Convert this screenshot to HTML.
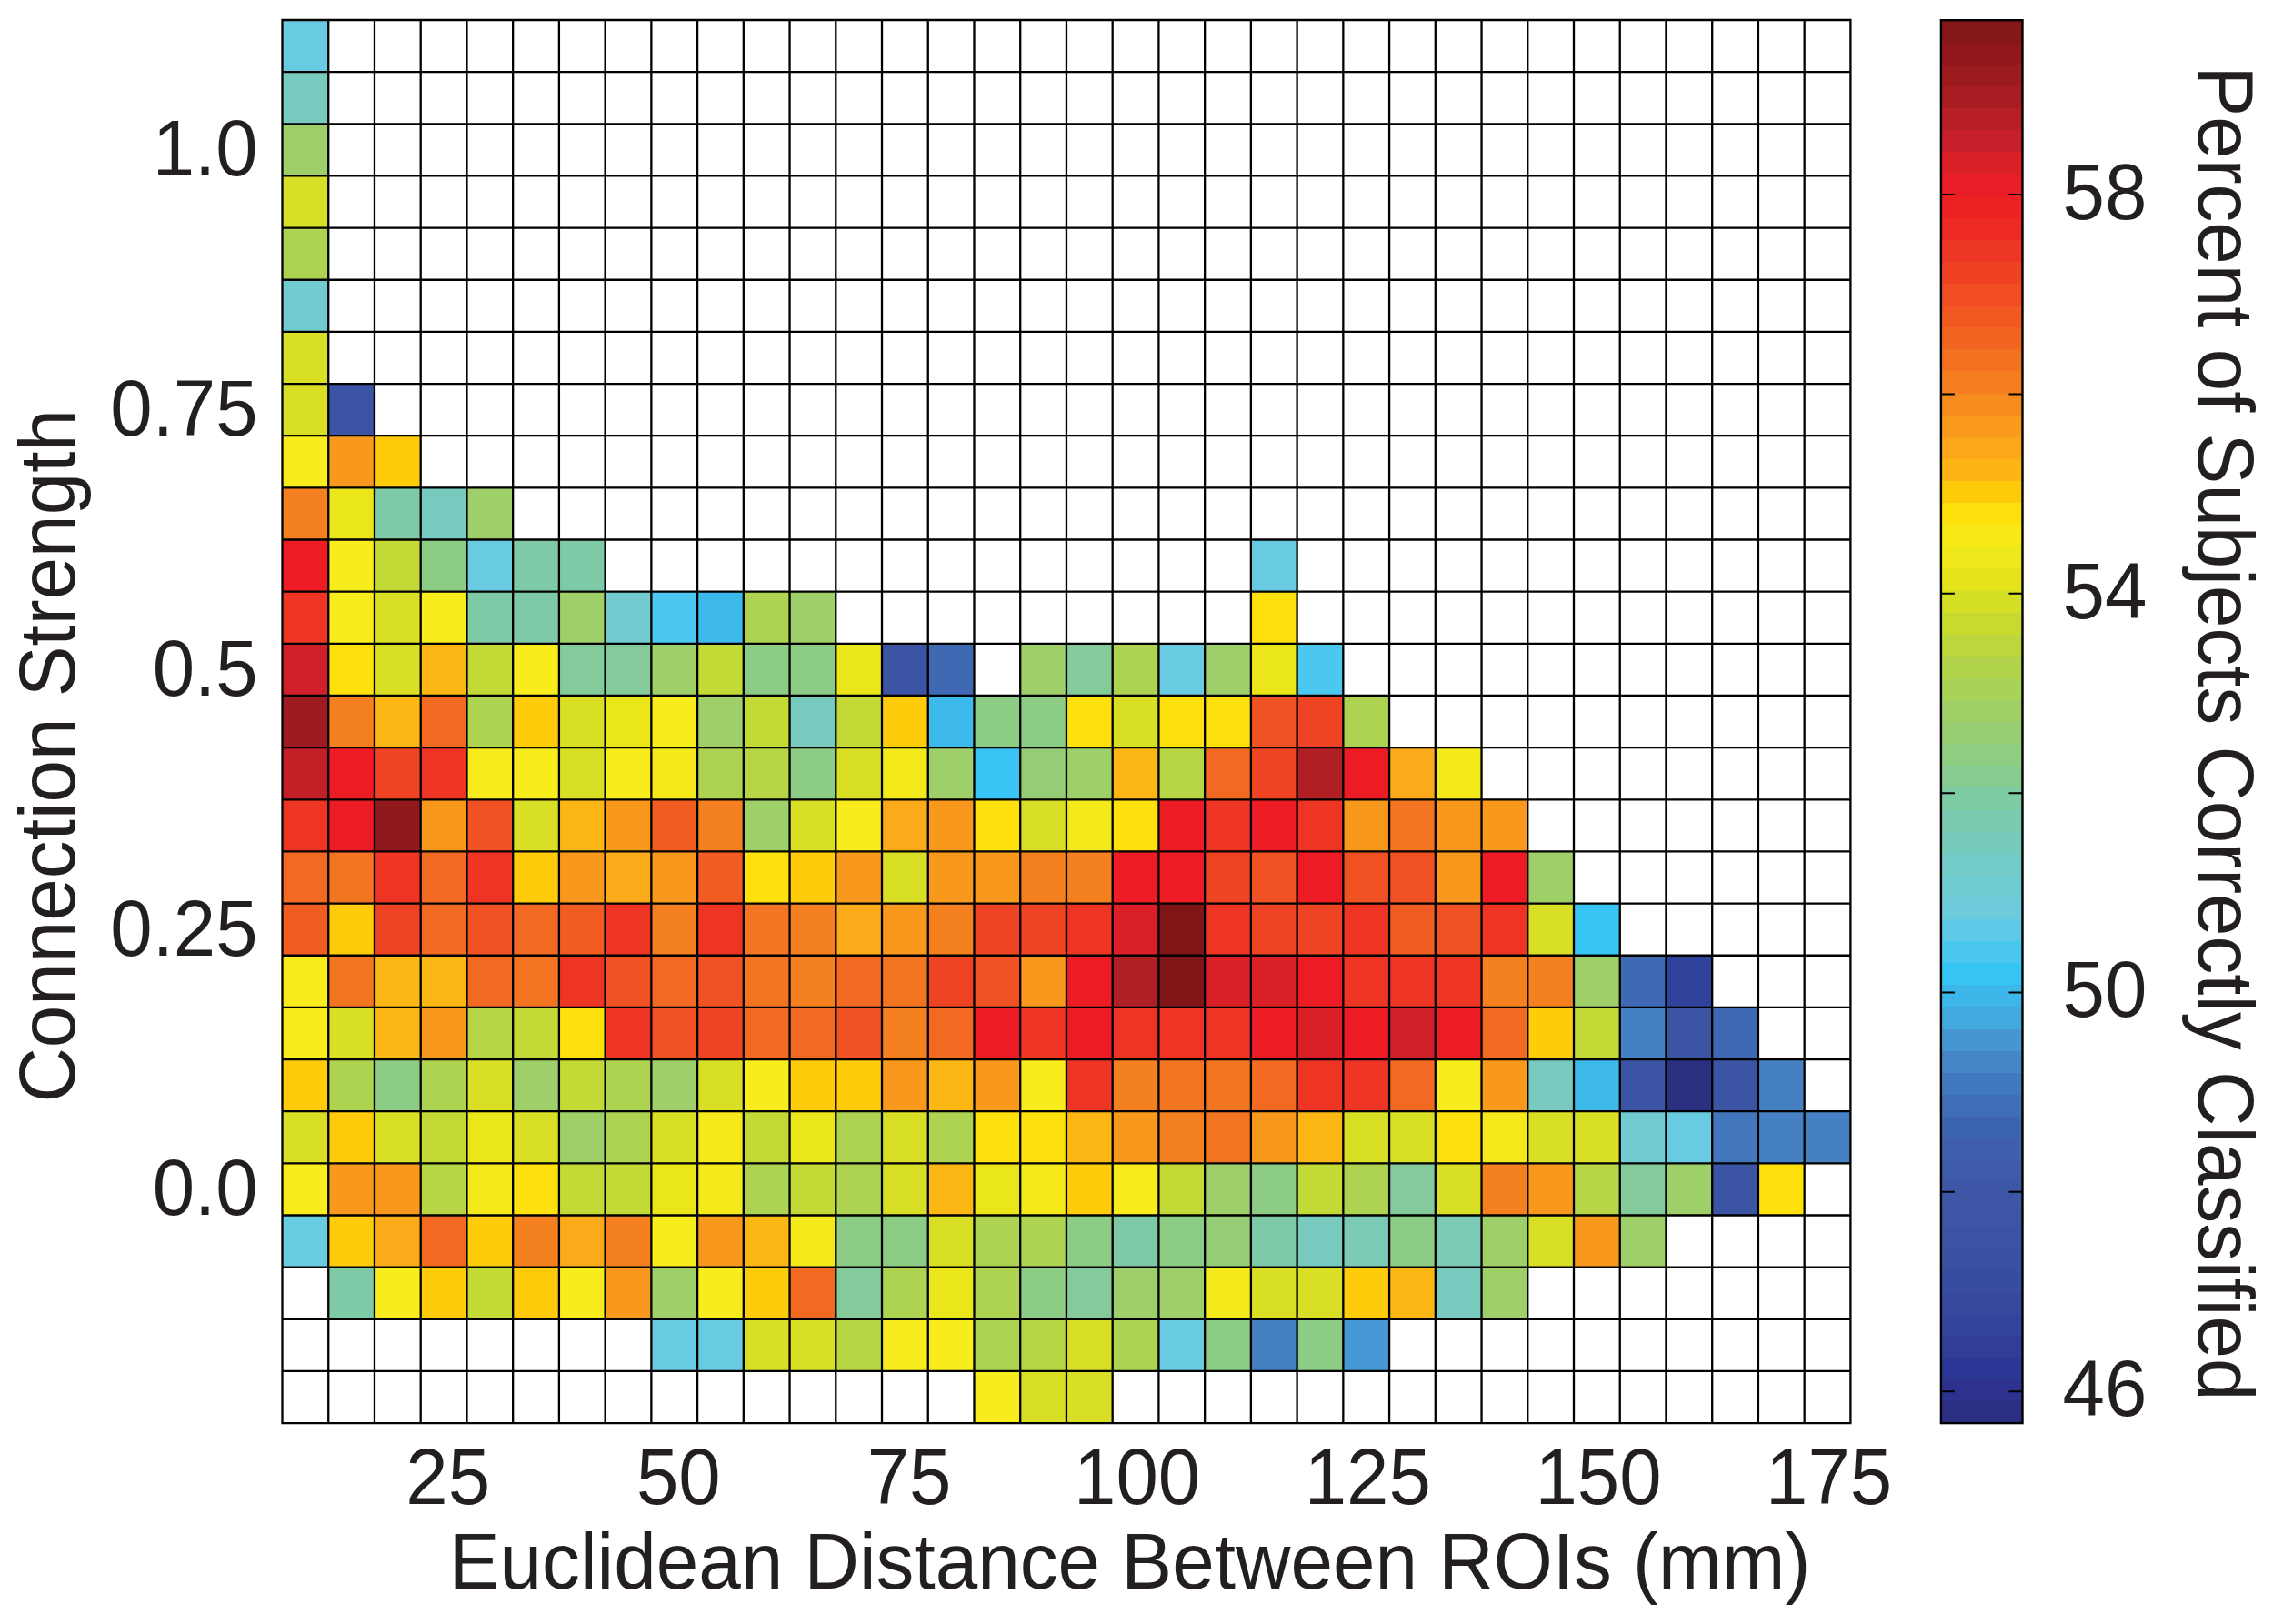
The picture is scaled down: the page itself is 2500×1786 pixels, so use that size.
<!DOCTYPE html>
<html lang="en"><head><meta charset="utf-8"><title>Classification accuracy by distance and connection strength</title>
<style>html,body{margin:0;padding:0;background:#fff}body{width:2500px;height:1786px;overflow:hidden}svg{display:block}text{font-family:"Liberation Sans",Arial,Helvetica,sans-serif;fill:#231f20}</style></head><body>
<svg width="2500" height="1786" viewBox="0 0 2500 1786">
<rect width="2500" height="1786" fill="#fff"/>
<g shape-rendering="crispEdges">
<rect x="310.50" y="22.00" width="50.73" height="57.15" fill="#69cbe1"/>
<rect x="310.50" y="79.15" width="50.73" height="57.15" fill="#77cabd"/>
<rect x="310.50" y="136.30" width="50.73" height="57.15" fill="#9ecf68"/>
<rect x="310.50" y="193.46" width="50.73" height="57.15" fill="#d8df24"/>
<rect x="310.50" y="250.61" width="50.73" height="57.15" fill="#aed351"/>
<rect x="310.50" y="307.76" width="50.73" height="57.15" fill="#71cbd0"/>
<rect x="310.50" y="364.91" width="50.73" height="57.15" fill="#d8df24"/>
<rect x="310.50" y="422.06" width="50.73" height="57.15" fill="#d8df24"/>
<rect x="361.23" y="422.06" width="50.73" height="57.15" fill="#3c54a4"/>
<rect x="310.50" y="479.21" width="50.73" height="57.15" fill="#f9ec1d"/>
<rect x="361.23" y="479.21" width="50.73" height="57.15" fill="#f8981d"/>
<rect x="411.96" y="479.21" width="50.73" height="57.15" fill="#ffcc0b"/>
<rect x="310.50" y="536.37" width="50.73" height="57.15" fill="#f58020"/>
<rect x="361.23" y="536.37" width="50.73" height="57.15" fill="#ebe619"/>
<rect x="411.96" y="536.37" width="50.73" height="57.15" fill="#7ecaa6"/>
<rect x="462.70" y="536.37" width="50.73" height="57.15" fill="#77cabd"/>
<rect x="513.43" y="536.37" width="50.73" height="57.15" fill="#9ecf68"/>
<rect x="310.50" y="593.52" width="50.73" height="57.15" fill="#ed1c24"/>
<rect x="361.23" y="593.52" width="50.73" height="57.15" fill="#f9ec1d"/>
<rect x="411.96" y="593.52" width="50.73" height="57.15" fill="#c2d936"/>
<rect x="462.70" y="593.52" width="50.73" height="57.15" fill="#8dcc84"/>
<rect x="513.43" y="593.52" width="50.73" height="57.15" fill="#69cbe1"/>
<rect x="564.16" y="593.52" width="50.73" height="57.15" fill="#7ecaa6"/>
<rect x="614.89" y="593.52" width="50.73" height="57.15" fill="#7ecaa6"/>
<rect x="1375.88" y="593.52" width="50.73" height="57.15" fill="#69cbe1"/>
<rect x="310.50" y="650.67" width="50.73" height="57.15" fill="#ee3524"/>
<rect x="361.23" y="650.67" width="50.73" height="57.15" fill="#f9ec1d"/>
<rect x="411.96" y="650.67" width="50.73" height="57.15" fill="#d8df24"/>
<rect x="462.70" y="650.67" width="50.73" height="57.15" fill="#f9ec1d"/>
<rect x="513.43" y="650.67" width="50.73" height="57.15" fill="#7ecaa6"/>
<rect x="564.16" y="650.67" width="50.73" height="57.15" fill="#7ecaa6"/>
<rect x="614.89" y="650.67" width="50.73" height="57.15" fill="#9ecf68"/>
<rect x="665.63" y="650.67" width="50.73" height="57.15" fill="#71cbd0"/>
<rect x="716.36" y="650.67" width="50.73" height="57.15" fill="#4cc7f0"/>
<rect x="767.09" y="650.67" width="50.73" height="57.15" fill="#3db9ec"/>
<rect x="817.82" y="650.67" width="50.73" height="57.15" fill="#aed351"/>
<rect x="868.56" y="650.67" width="50.73" height="57.15" fill="#9ecf68"/>
<rect x="1375.88" y="650.67" width="50.73" height="57.15" fill="#fee00c"/>
<rect x="310.50" y="707.82" width="50.73" height="57.15" fill="#cf2029"/>
<rect x="361.23" y="707.82" width="50.73" height="57.15" fill="#fee00c"/>
<rect x="411.96" y="707.82" width="50.73" height="57.15" fill="#d8df24"/>
<rect x="462.70" y="707.82" width="50.73" height="57.15" fill="#fdb714"/>
<rect x="513.43" y="707.82" width="50.73" height="57.15" fill="#c2d936"/>
<rect x="564.16" y="707.82" width="50.73" height="57.15" fill="#f9ec1d"/>
<rect x="614.89" y="707.82" width="50.73" height="57.15" fill="#85ca9a"/>
<rect x="665.63" y="707.82" width="50.73" height="57.15" fill="#85ca9a"/>
<rect x="716.36" y="707.82" width="50.73" height="57.15" fill="#9ecf68"/>
<rect x="767.09" y="707.82" width="50.73" height="57.15" fill="#c2d936"/>
<rect x="817.82" y="707.82" width="50.73" height="57.15" fill="#8dcc84"/>
<rect x="868.56" y="707.82" width="50.73" height="57.15" fill="#8dcc84"/>
<rect x="919.29" y="707.82" width="50.73" height="57.15" fill="#ebe619"/>
<rect x="970.02" y="707.82" width="50.73" height="57.15" fill="#3c54a4"/>
<rect x="1020.75" y="707.82" width="50.73" height="57.15" fill="#3f69b2"/>
<rect x="1122.22" y="707.82" width="50.73" height="57.15" fill="#9ecf68"/>
<rect x="1172.95" y="707.82" width="50.73" height="57.15" fill="#85ca9a"/>
<rect x="1223.68" y="707.82" width="50.73" height="57.15" fill="#aed351"/>
<rect x="1274.41" y="707.82" width="50.73" height="57.15" fill="#69cbe1"/>
<rect x="1325.15" y="707.82" width="50.73" height="57.15" fill="#9ecf68"/>
<rect x="1375.88" y="707.82" width="50.73" height="57.15" fill="#ebe619"/>
<rect x="1426.61" y="707.82" width="50.73" height="57.15" fill="#4cc7f0"/>
<rect x="310.50" y="764.97" width="50.73" height="57.15" fill="#9e1b20"/>
<rect x="361.23" y="764.97" width="50.73" height="57.15" fill="#f58020"/>
<rect x="411.96" y="764.97" width="50.73" height="57.15" fill="#fdb714"/>
<rect x="462.70" y="764.97" width="50.73" height="57.15" fill="#f26a21"/>
<rect x="513.43" y="764.97" width="50.73" height="57.15" fill="#aed351"/>
<rect x="564.16" y="764.97" width="50.73" height="57.15" fill="#ffcc0b"/>
<rect x="614.89" y="764.97" width="50.73" height="57.15" fill="#d8df24"/>
<rect x="665.63" y="764.97" width="50.73" height="57.15" fill="#ebe619"/>
<rect x="716.36" y="764.97" width="50.73" height="57.15" fill="#f9ec1d"/>
<rect x="767.09" y="764.97" width="50.73" height="57.15" fill="#9ecf68"/>
<rect x="817.82" y="764.97" width="50.73" height="57.15" fill="#c2d936"/>
<rect x="868.56" y="764.97" width="50.73" height="57.15" fill="#77cabd"/>
<rect x="919.29" y="764.97" width="50.73" height="57.15" fill="#c2d936"/>
<rect x="970.02" y="764.97" width="50.73" height="57.15" fill="#ffcc0b"/>
<rect x="1020.75" y="764.97" width="50.73" height="57.15" fill="#3db9ec"/>
<rect x="1071.49" y="764.97" width="50.73" height="57.15" fill="#8dcc84"/>
<rect x="1122.22" y="764.97" width="50.73" height="57.15" fill="#8dcc84"/>
<rect x="1172.95" y="764.97" width="50.73" height="57.15" fill="#fee00c"/>
<rect x="1223.68" y="764.97" width="50.73" height="57.15" fill="#d8df24"/>
<rect x="1274.41" y="764.97" width="50.73" height="57.15" fill="#fee00c"/>
<rect x="1325.15" y="764.97" width="50.73" height="57.15" fill="#fee00c"/>
<rect x="1375.88" y="764.97" width="50.73" height="57.15" fill="#f05223"/>
<rect x="1426.61" y="764.97" width="50.73" height="57.15" fill="#ef4423"/>
<rect x="1477.34" y="764.97" width="50.73" height="57.15" fill="#aed351"/>
<rect x="310.50" y="822.13" width="50.73" height="57.15" fill="#c22026"/>
<rect x="361.23" y="822.13" width="50.73" height="57.15" fill="#ed1c24"/>
<rect x="411.96" y="822.13" width="50.73" height="57.15" fill="#ef4423"/>
<rect x="462.70" y="822.13" width="50.73" height="57.15" fill="#ee3524"/>
<rect x="513.43" y="822.13" width="50.73" height="57.15" fill="#f9ec1d"/>
<rect x="564.16" y="822.13" width="50.73" height="57.15" fill="#f9ec1d"/>
<rect x="614.89" y="822.13" width="50.73" height="57.15" fill="#d8df24"/>
<rect x="665.63" y="822.13" width="50.73" height="57.15" fill="#f9ec1d"/>
<rect x="716.36" y="822.13" width="50.73" height="57.15" fill="#f3e91b"/>
<rect x="767.09" y="822.13" width="50.73" height="57.15" fill="#aed351"/>
<rect x="817.82" y="822.13" width="50.73" height="57.15" fill="#b6d645"/>
<rect x="868.56" y="822.13" width="50.73" height="57.15" fill="#8dcc84"/>
<rect x="919.29" y="822.13" width="50.73" height="57.15" fill="#d8df24"/>
<rect x="970.02" y="822.13" width="50.73" height="57.15" fill="#f3e91b"/>
<rect x="1020.75" y="822.13" width="50.73" height="57.15" fill="#9ecf68"/>
<rect x="1071.49" y="822.13" width="50.73" height="57.15" fill="#38c4f4"/>
<rect x="1122.22" y="822.13" width="50.73" height="57.15" fill="#95cd76"/>
<rect x="1172.95" y="822.13" width="50.73" height="57.15" fill="#9ecf68"/>
<rect x="1223.68" y="822.13" width="50.73" height="57.15" fill="#fdb714"/>
<rect x="1274.41" y="822.13" width="50.73" height="57.15" fill="#b6d645"/>
<rect x="1325.15" y="822.13" width="50.73" height="57.15" fill="#f26a21"/>
<rect x="1375.88" y="822.13" width="50.73" height="57.15" fill="#ef4423"/>
<rect x="1426.61" y="822.13" width="50.73" height="57.15" fill="#b01f24"/>
<rect x="1477.34" y="822.13" width="50.73" height="57.15" fill="#ed1c24"/>
<rect x="1528.08" y="822.13" width="50.73" height="57.15" fill="#fbaa19"/>
<rect x="1578.81" y="822.13" width="50.73" height="57.15" fill="#f3e91b"/>
<rect x="310.50" y="879.28" width="50.73" height="57.15" fill="#ee3524"/>
<rect x="361.23" y="879.28" width="50.73" height="57.15" fill="#ed1c24"/>
<rect x="411.96" y="879.28" width="50.73" height="57.15" fill="#8f191c"/>
<rect x="462.70" y="879.28" width="50.73" height="57.15" fill="#f8981d"/>
<rect x="513.43" y="879.28" width="50.73" height="57.15" fill="#f05223"/>
<rect x="564.16" y="879.28" width="50.73" height="57.15" fill="#d8df24"/>
<rect x="614.89" y="879.28" width="50.73" height="57.15" fill="#fdb714"/>
<rect x="665.63" y="879.28" width="50.73" height="57.15" fill="#f8981d"/>
<rect x="716.36" y="879.28" width="50.73" height="57.15" fill="#f15c22"/>
<rect x="767.09" y="879.28" width="50.73" height="57.15" fill="#f58020"/>
<rect x="817.82" y="879.28" width="50.73" height="57.15" fill="#9ecf68"/>
<rect x="868.56" y="879.28" width="50.73" height="57.15" fill="#d8df24"/>
<rect x="919.29" y="879.28" width="50.73" height="57.15" fill="#f9ec1d"/>
<rect x="970.02" y="879.28" width="50.73" height="57.15" fill="#fbaa19"/>
<rect x="1020.75" y="879.28" width="50.73" height="57.15" fill="#f8981d"/>
<rect x="1071.49" y="879.28" width="50.73" height="57.15" fill="#fee00c"/>
<rect x="1122.22" y="879.28" width="50.73" height="57.15" fill="#d8df24"/>
<rect x="1172.95" y="879.28" width="50.73" height="57.15" fill="#f3e91b"/>
<rect x="1223.68" y="879.28" width="50.73" height="57.15" fill="#fee00c"/>
<rect x="1274.41" y="879.28" width="50.73" height="57.15" fill="#ed1c24"/>
<rect x="1325.15" y="879.28" width="50.73" height="57.15" fill="#ee3524"/>
<rect x="1375.88" y="879.28" width="50.73" height="57.15" fill="#ed1c24"/>
<rect x="1426.61" y="879.28" width="50.73" height="57.15" fill="#ee3524"/>
<rect x="1477.34" y="879.28" width="50.73" height="57.15" fill="#f8981d"/>
<rect x="1528.08" y="879.28" width="50.73" height="57.15" fill="#f47521"/>
<rect x="1578.81" y="879.28" width="50.73" height="57.15" fill="#f8981d"/>
<rect x="1629.54" y="879.28" width="50.73" height="57.15" fill="#f8981d"/>
<rect x="310.50" y="936.43" width="50.73" height="57.15" fill="#f26a21"/>
<rect x="361.23" y="936.43" width="50.73" height="57.15" fill="#f47521"/>
<rect x="411.96" y="936.43" width="50.73" height="57.15" fill="#ee3524"/>
<rect x="462.70" y="936.43" width="50.73" height="57.15" fill="#f26a21"/>
<rect x="513.43" y="936.43" width="50.73" height="57.15" fill="#ee3524"/>
<rect x="564.16" y="936.43" width="50.73" height="57.15" fill="#ffcc0b"/>
<rect x="614.89" y="936.43" width="50.73" height="57.15" fill="#f8981d"/>
<rect x="665.63" y="936.43" width="50.73" height="57.15" fill="#fbaa19"/>
<rect x="716.36" y="936.43" width="50.73" height="57.15" fill="#f8981d"/>
<rect x="767.09" y="936.43" width="50.73" height="57.15" fill="#f15c22"/>
<rect x="817.82" y="936.43" width="50.73" height="57.15" fill="#fee00c"/>
<rect x="868.56" y="936.43" width="50.73" height="57.15" fill="#ffcc0b"/>
<rect x="919.29" y="936.43" width="50.73" height="57.15" fill="#f8981d"/>
<rect x="970.02" y="936.43" width="50.73" height="57.15" fill="#d8df24"/>
<rect x="1020.75" y="936.43" width="50.73" height="57.15" fill="#f8981d"/>
<rect x="1071.49" y="936.43" width="50.73" height="57.15" fill="#f8981d"/>
<rect x="1122.22" y="936.43" width="50.73" height="57.15" fill="#f58020"/>
<rect x="1172.95" y="936.43" width="50.73" height="57.15" fill="#f58020"/>
<rect x="1223.68" y="936.43" width="50.73" height="57.15" fill="#ed1c24"/>
<rect x="1274.41" y="936.43" width="50.73" height="57.15" fill="#ed1c24"/>
<rect x="1325.15" y="936.43" width="50.73" height="57.15" fill="#ef4423"/>
<rect x="1375.88" y="936.43" width="50.73" height="57.15" fill="#f05223"/>
<rect x="1426.61" y="936.43" width="50.73" height="57.15" fill="#ed1c24"/>
<rect x="1477.34" y="936.43" width="50.73" height="57.15" fill="#f05223"/>
<rect x="1528.08" y="936.43" width="50.73" height="57.15" fill="#f05223"/>
<rect x="1578.81" y="936.43" width="50.73" height="57.15" fill="#f8981d"/>
<rect x="1629.54" y="936.43" width="50.73" height="57.15" fill="#ed1c24"/>
<rect x="1680.27" y="936.43" width="50.73" height="57.15" fill="#9ecf68"/>
<rect x="310.50" y="993.58" width="50.73" height="57.15" fill="#f15c22"/>
<rect x="361.23" y="993.58" width="50.73" height="57.15" fill="#ffcc0b"/>
<rect x="411.96" y="993.58" width="50.73" height="57.15" fill="#ef4423"/>
<rect x="462.70" y="993.58" width="50.73" height="57.15" fill="#f26a21"/>
<rect x="513.43" y="993.58" width="50.73" height="57.15" fill="#f05223"/>
<rect x="564.16" y="993.58" width="50.73" height="57.15" fill="#f26a21"/>
<rect x="614.89" y="993.58" width="50.73" height="57.15" fill="#f15c22"/>
<rect x="665.63" y="993.58" width="50.73" height="57.15" fill="#ee3524"/>
<rect x="716.36" y="993.58" width="50.73" height="57.15" fill="#f58020"/>
<rect x="767.09" y="993.58" width="50.73" height="57.15" fill="#ee3524"/>
<rect x="817.82" y="993.58" width="50.73" height="57.15" fill="#f47521"/>
<rect x="868.56" y="993.58" width="50.73" height="57.15" fill="#f58020"/>
<rect x="919.29" y="993.58" width="50.73" height="57.15" fill="#fbaa19"/>
<rect x="970.02" y="993.58" width="50.73" height="57.15" fill="#f8981d"/>
<rect x="1020.75" y="993.58" width="50.73" height="57.15" fill="#f58020"/>
<rect x="1071.49" y="993.58" width="50.73" height="57.15" fill="#ef4423"/>
<rect x="1122.22" y="993.58" width="50.73" height="57.15" fill="#ef4423"/>
<rect x="1172.95" y="993.58" width="50.73" height="57.15" fill="#ee3524"/>
<rect x="1223.68" y="993.58" width="50.73" height="57.15" fill="#da1f27"/>
<rect x="1274.41" y="993.58" width="50.73" height="57.15" fill="#7f1517"/>
<rect x="1325.15" y="993.58" width="50.73" height="57.15" fill="#ee3524"/>
<rect x="1375.88" y="993.58" width="50.73" height="57.15" fill="#ef4423"/>
<rect x="1426.61" y="993.58" width="50.73" height="57.15" fill="#ef4423"/>
<rect x="1477.34" y="993.58" width="50.73" height="57.15" fill="#ee3524"/>
<rect x="1528.08" y="993.58" width="50.73" height="57.15" fill="#f15c22"/>
<rect x="1578.81" y="993.58" width="50.73" height="57.15" fill="#f05223"/>
<rect x="1629.54" y="993.58" width="50.73" height="57.15" fill="#ee3524"/>
<rect x="1680.27" y="993.58" width="50.73" height="57.15" fill="#d8df24"/>
<rect x="1731.01" y="993.58" width="50.73" height="57.15" fill="#38c4f4"/>
<rect x="310.50" y="1050.73" width="50.73" height="57.15" fill="#f9ec1d"/>
<rect x="361.23" y="1050.73" width="50.73" height="57.15" fill="#f47521"/>
<rect x="411.96" y="1050.73" width="50.73" height="57.15" fill="#fdb714"/>
<rect x="462.70" y="1050.73" width="50.73" height="57.15" fill="#fdb714"/>
<rect x="513.43" y="1050.73" width="50.73" height="57.15" fill="#f26a21"/>
<rect x="564.16" y="1050.73" width="50.73" height="57.15" fill="#f47521"/>
<rect x="614.89" y="1050.73" width="50.73" height="57.15" fill="#ee3524"/>
<rect x="665.63" y="1050.73" width="50.73" height="57.15" fill="#f05223"/>
<rect x="716.36" y="1050.73" width="50.73" height="57.15" fill="#f26a21"/>
<rect x="767.09" y="1050.73" width="50.73" height="57.15" fill="#f05223"/>
<rect x="817.82" y="1050.73" width="50.73" height="57.15" fill="#f47521"/>
<rect x="868.56" y="1050.73" width="50.73" height="57.15" fill="#f58020"/>
<rect x="919.29" y="1050.73" width="50.73" height="57.15" fill="#f26a21"/>
<rect x="970.02" y="1050.73" width="50.73" height="57.15" fill="#f47521"/>
<rect x="1020.75" y="1050.73" width="50.73" height="57.15" fill="#ef4423"/>
<rect x="1071.49" y="1050.73" width="50.73" height="57.15" fill="#f05223"/>
<rect x="1122.22" y="1050.73" width="50.73" height="57.15" fill="#f8981d"/>
<rect x="1172.95" y="1050.73" width="50.73" height="57.15" fill="#ed1c24"/>
<rect x="1223.68" y="1050.73" width="50.73" height="57.15" fill="#b01f24"/>
<rect x="1274.41" y="1050.73" width="50.73" height="57.15" fill="#7f1517"/>
<rect x="1325.15" y="1050.73" width="50.73" height="57.15" fill="#da1f27"/>
<rect x="1375.88" y="1050.73" width="50.73" height="57.15" fill="#da1f27"/>
<rect x="1426.61" y="1050.73" width="50.73" height="57.15" fill="#ed1c24"/>
<rect x="1477.34" y="1050.73" width="50.73" height="57.15" fill="#ee3524"/>
<rect x="1528.08" y="1050.73" width="50.73" height="57.15" fill="#ee3524"/>
<rect x="1578.81" y="1050.73" width="50.73" height="57.15" fill="#ee3524"/>
<rect x="1629.54" y="1050.73" width="50.73" height="57.15" fill="#f58020"/>
<rect x="1680.27" y="1050.73" width="50.73" height="57.15" fill="#f58020"/>
<rect x="1731.01" y="1050.73" width="50.73" height="57.15" fill="#9ecf68"/>
<rect x="1781.74" y="1050.73" width="50.73" height="57.15" fill="#3f69b2"/>
<rect x="1832.47" y="1050.73" width="50.73" height="57.15" fill="#30419b"/>
<rect x="310.50" y="1107.89" width="50.73" height="57.15" fill="#f9ec1d"/>
<rect x="361.23" y="1107.89" width="50.73" height="57.15" fill="#d8df24"/>
<rect x="411.96" y="1107.89" width="50.73" height="57.15" fill="#fdb714"/>
<rect x="462.70" y="1107.89" width="50.73" height="57.15" fill="#f8981d"/>
<rect x="513.43" y="1107.89" width="50.73" height="57.15" fill="#b6d645"/>
<rect x="564.16" y="1107.89" width="50.73" height="57.15" fill="#c2d936"/>
<rect x="614.89" y="1107.89" width="50.73" height="57.15" fill="#fee00c"/>
<rect x="665.63" y="1107.89" width="50.73" height="57.15" fill="#ee3524"/>
<rect x="716.36" y="1107.89" width="50.73" height="57.15" fill="#f05223"/>
<rect x="767.09" y="1107.89" width="50.73" height="57.15" fill="#ef4423"/>
<rect x="817.82" y="1107.89" width="50.73" height="57.15" fill="#f26a21"/>
<rect x="868.56" y="1107.89" width="50.73" height="57.15" fill="#f26a21"/>
<rect x="919.29" y="1107.89" width="50.73" height="57.15" fill="#f05223"/>
<rect x="970.02" y="1107.89" width="50.73" height="57.15" fill="#f58020"/>
<rect x="1020.75" y="1107.89" width="50.73" height="57.15" fill="#f26a21"/>
<rect x="1071.49" y="1107.89" width="50.73" height="57.15" fill="#ed1c24"/>
<rect x="1122.22" y="1107.89" width="50.73" height="57.15" fill="#ee3524"/>
<rect x="1172.95" y="1107.89" width="50.73" height="57.15" fill="#ed1c24"/>
<rect x="1223.68" y="1107.89" width="50.73" height="57.15" fill="#ee3524"/>
<rect x="1274.41" y="1107.89" width="50.73" height="57.15" fill="#ee3524"/>
<rect x="1325.15" y="1107.89" width="50.73" height="57.15" fill="#ee3524"/>
<rect x="1375.88" y="1107.89" width="50.73" height="57.15" fill="#ed1c24"/>
<rect x="1426.61" y="1107.89" width="50.73" height="57.15" fill="#da1f27"/>
<rect x="1477.34" y="1107.89" width="50.73" height="57.15" fill="#ed1c24"/>
<rect x="1528.08" y="1107.89" width="50.73" height="57.15" fill="#cf2029"/>
<rect x="1578.81" y="1107.89" width="50.73" height="57.15" fill="#ed1c24"/>
<rect x="1629.54" y="1107.89" width="50.73" height="57.15" fill="#f26a21"/>
<rect x="1680.27" y="1107.89" width="50.73" height="57.15" fill="#ffcc0b"/>
<rect x="1731.01" y="1107.89" width="50.73" height="57.15" fill="#c2d936"/>
<rect x="1781.74" y="1107.89" width="50.73" height="57.15" fill="#4580c3"/>
<rect x="1832.47" y="1107.89" width="50.73" height="57.15" fill="#3c54a4"/>
<rect x="1883.20" y="1107.89" width="50.73" height="57.15" fill="#3f69b2"/>
<rect x="310.50" y="1165.04" width="50.73" height="57.15" fill="#ffcc0b"/>
<rect x="361.23" y="1165.04" width="50.73" height="57.15" fill="#aed351"/>
<rect x="411.96" y="1165.04" width="50.73" height="57.15" fill="#8dcc84"/>
<rect x="462.70" y="1165.04" width="50.73" height="57.15" fill="#aed351"/>
<rect x="513.43" y="1165.04" width="50.73" height="57.15" fill="#d8df24"/>
<rect x="564.16" y="1165.04" width="50.73" height="57.15" fill="#9ecf68"/>
<rect x="614.89" y="1165.04" width="50.73" height="57.15" fill="#c2d936"/>
<rect x="665.63" y="1165.04" width="50.73" height="57.15" fill="#aed351"/>
<rect x="716.36" y="1165.04" width="50.73" height="57.15" fill="#9ecf68"/>
<rect x="767.09" y="1165.04" width="50.73" height="57.15" fill="#d8df24"/>
<rect x="817.82" y="1165.04" width="50.73" height="57.15" fill="#f9ec1d"/>
<rect x="868.56" y="1165.04" width="50.73" height="57.15" fill="#ffcc0b"/>
<rect x="919.29" y="1165.04" width="50.73" height="57.15" fill="#ffcc0b"/>
<rect x="970.02" y="1165.04" width="50.73" height="57.15" fill="#f8981d"/>
<rect x="1020.75" y="1165.04" width="50.73" height="57.15" fill="#fdb714"/>
<rect x="1071.49" y="1165.04" width="50.73" height="57.15" fill="#f8981d"/>
<rect x="1122.22" y="1165.04" width="50.73" height="57.15" fill="#f9ec1d"/>
<rect x="1172.95" y="1165.04" width="50.73" height="57.15" fill="#ee3524"/>
<rect x="1223.68" y="1165.04" width="50.73" height="57.15" fill="#f58020"/>
<rect x="1274.41" y="1165.04" width="50.73" height="57.15" fill="#f47521"/>
<rect x="1325.15" y="1165.04" width="50.73" height="57.15" fill="#f47521"/>
<rect x="1375.88" y="1165.04" width="50.73" height="57.15" fill="#f26a21"/>
<rect x="1426.61" y="1165.04" width="50.73" height="57.15" fill="#ee3524"/>
<rect x="1477.34" y="1165.04" width="50.73" height="57.15" fill="#ee3524"/>
<rect x="1528.08" y="1165.04" width="50.73" height="57.15" fill="#f26a21"/>
<rect x="1578.81" y="1165.04" width="50.73" height="57.15" fill="#f9ec1d"/>
<rect x="1629.54" y="1165.04" width="50.73" height="57.15" fill="#f8981d"/>
<rect x="1680.27" y="1165.04" width="50.73" height="57.15" fill="#77cabd"/>
<rect x="1731.01" y="1165.04" width="50.73" height="57.15" fill="#3db9ec"/>
<rect x="1781.74" y="1165.04" width="50.73" height="57.15" fill="#3c54a4"/>
<rect x="1832.47" y="1165.04" width="50.73" height="57.15" fill="#2b2f80"/>
<rect x="1883.20" y="1165.04" width="50.73" height="57.15" fill="#3c54a4"/>
<rect x="1933.94" y="1165.04" width="50.73" height="57.15" fill="#4580c3"/>
<rect x="310.50" y="1222.19" width="50.73" height="57.15" fill="#d8df24"/>
<rect x="361.23" y="1222.19" width="50.73" height="57.15" fill="#ffcc0b"/>
<rect x="411.96" y="1222.19" width="50.73" height="57.15" fill="#d8df24"/>
<rect x="462.70" y="1222.19" width="50.73" height="57.15" fill="#c2d936"/>
<rect x="513.43" y="1222.19" width="50.73" height="57.15" fill="#ebe619"/>
<rect x="564.16" y="1222.19" width="50.73" height="57.15" fill="#d8df24"/>
<rect x="614.89" y="1222.19" width="50.73" height="57.15" fill="#9ecf68"/>
<rect x="665.63" y="1222.19" width="50.73" height="57.15" fill="#aed351"/>
<rect x="716.36" y="1222.19" width="50.73" height="57.15" fill="#d8df24"/>
<rect x="767.09" y="1222.19" width="50.73" height="57.15" fill="#f3e91b"/>
<rect x="817.82" y="1222.19" width="50.73" height="57.15" fill="#c2d936"/>
<rect x="868.56" y="1222.19" width="50.73" height="57.15" fill="#ebe619"/>
<rect x="919.29" y="1222.19" width="50.73" height="57.15" fill="#aed351"/>
<rect x="970.02" y="1222.19" width="50.73" height="57.15" fill="#d8df24"/>
<rect x="1020.75" y="1222.19" width="50.73" height="57.15" fill="#aed351"/>
<rect x="1071.49" y="1222.19" width="50.73" height="57.15" fill="#fee00c"/>
<rect x="1122.22" y="1222.19" width="50.73" height="57.15" fill="#fee00c"/>
<rect x="1172.95" y="1222.19" width="50.73" height="57.15" fill="#fdb714"/>
<rect x="1223.68" y="1222.19" width="50.73" height="57.15" fill="#f8981d"/>
<rect x="1274.41" y="1222.19" width="50.73" height="57.15" fill="#f58020"/>
<rect x="1325.15" y="1222.19" width="50.73" height="57.15" fill="#f47521"/>
<rect x="1375.88" y="1222.19" width="50.73" height="57.15" fill="#f8981d"/>
<rect x="1426.61" y="1222.19" width="50.73" height="57.15" fill="#fdb714"/>
<rect x="1477.34" y="1222.19" width="50.73" height="57.15" fill="#d8df24"/>
<rect x="1528.08" y="1222.19" width="50.73" height="57.15" fill="#d8df24"/>
<rect x="1578.81" y="1222.19" width="50.73" height="57.15" fill="#fee00c"/>
<rect x="1629.54" y="1222.19" width="50.73" height="57.15" fill="#f3e91b"/>
<rect x="1680.27" y="1222.19" width="50.73" height="57.15" fill="#d8df24"/>
<rect x="1731.01" y="1222.19" width="50.73" height="57.15" fill="#d8df24"/>
<rect x="1781.74" y="1222.19" width="50.73" height="57.15" fill="#71cbd0"/>
<rect x="1832.47" y="1222.19" width="50.73" height="57.15" fill="#69cbe1"/>
<rect x="1883.20" y="1222.19" width="50.73" height="57.15" fill="#4277bc"/>
<rect x="1933.94" y="1222.19" width="50.73" height="57.15" fill="#4580c3"/>
<rect x="1984.67" y="1222.19" width="50.73" height="57.15" fill="#4580c3"/>
<rect x="310.50" y="1279.34" width="50.73" height="57.15" fill="#f9ec1d"/>
<rect x="361.23" y="1279.34" width="50.73" height="57.15" fill="#f8981d"/>
<rect x="411.96" y="1279.34" width="50.73" height="57.15" fill="#f8981d"/>
<rect x="462.70" y="1279.34" width="50.73" height="57.15" fill="#b6d645"/>
<rect x="513.43" y="1279.34" width="50.73" height="57.15" fill="#f3e91b"/>
<rect x="564.16" y="1279.34" width="50.73" height="57.15" fill="#fee00c"/>
<rect x="614.89" y="1279.34" width="50.73" height="57.15" fill="#c2d936"/>
<rect x="665.63" y="1279.34" width="50.73" height="57.15" fill="#c2d936"/>
<rect x="716.36" y="1279.34" width="50.73" height="57.15" fill="#ebe619"/>
<rect x="767.09" y="1279.34" width="50.73" height="57.15" fill="#f3e91b"/>
<rect x="817.82" y="1279.34" width="50.73" height="57.15" fill="#aed351"/>
<rect x="868.56" y="1279.34" width="50.73" height="57.15" fill="#c2d936"/>
<rect x="919.29" y="1279.34" width="50.73" height="57.15" fill="#aed351"/>
<rect x="970.02" y="1279.34" width="50.73" height="57.15" fill="#d8df24"/>
<rect x="1020.75" y="1279.34" width="50.73" height="57.15" fill="#fdb714"/>
<rect x="1071.49" y="1279.34" width="50.73" height="57.15" fill="#ebe619"/>
<rect x="1122.22" y="1279.34" width="50.73" height="57.15" fill="#f3e91b"/>
<rect x="1172.95" y="1279.34" width="50.73" height="57.15" fill="#ffcc0b"/>
<rect x="1223.68" y="1279.34" width="50.73" height="57.15" fill="#f9ec1d"/>
<rect x="1274.41" y="1279.34" width="50.73" height="57.15" fill="#c2d936"/>
<rect x="1325.15" y="1279.34" width="50.73" height="57.15" fill="#9ecf68"/>
<rect x="1375.88" y="1279.34" width="50.73" height="57.15" fill="#8dcc84"/>
<rect x="1426.61" y="1279.34" width="50.73" height="57.15" fill="#c2d936"/>
<rect x="1477.34" y="1279.34" width="50.73" height="57.15" fill="#aed351"/>
<rect x="1528.08" y="1279.34" width="50.73" height="57.15" fill="#85ca9a"/>
<rect x="1578.81" y="1279.34" width="50.73" height="57.15" fill="#d8df24"/>
<rect x="1629.54" y="1279.34" width="50.73" height="57.15" fill="#f58020"/>
<rect x="1680.27" y="1279.34" width="50.73" height="57.15" fill="#f8981d"/>
<rect x="1731.01" y="1279.34" width="50.73" height="57.15" fill="#b6d645"/>
<rect x="1781.74" y="1279.34" width="50.73" height="57.15" fill="#85ca9a"/>
<rect x="1832.47" y="1279.34" width="50.73" height="57.15" fill="#9ecf68"/>
<rect x="1883.20" y="1279.34" width="50.73" height="57.15" fill="#3c54a4"/>
<rect x="1933.94" y="1279.34" width="50.73" height="57.15" fill="#fee00c"/>
<rect x="310.50" y="1336.49" width="50.73" height="57.15" fill="#69cbe1"/>
<rect x="361.23" y="1336.49" width="50.73" height="57.15" fill="#ffcc0b"/>
<rect x="411.96" y="1336.49" width="50.73" height="57.15" fill="#fbaa19"/>
<rect x="462.70" y="1336.49" width="50.73" height="57.15" fill="#f26a21"/>
<rect x="513.43" y="1336.49" width="50.73" height="57.15" fill="#ffcc0b"/>
<rect x="564.16" y="1336.49" width="50.73" height="57.15" fill="#f58020"/>
<rect x="614.89" y="1336.49" width="50.73" height="57.15" fill="#fbaa19"/>
<rect x="665.63" y="1336.49" width="50.73" height="57.15" fill="#f58020"/>
<rect x="716.36" y="1336.49" width="50.73" height="57.15" fill="#f9ec1d"/>
<rect x="767.09" y="1336.49" width="50.73" height="57.15" fill="#f8981d"/>
<rect x="817.82" y="1336.49" width="50.73" height="57.15" fill="#fdb714"/>
<rect x="868.56" y="1336.49" width="50.73" height="57.15" fill="#f3e91b"/>
<rect x="919.29" y="1336.49" width="50.73" height="57.15" fill="#8dcc84"/>
<rect x="970.02" y="1336.49" width="50.73" height="57.15" fill="#8dcc84"/>
<rect x="1020.75" y="1336.49" width="50.73" height="57.15" fill="#d8df24"/>
<rect x="1071.49" y="1336.49" width="50.73" height="57.15" fill="#aed351"/>
<rect x="1122.22" y="1336.49" width="50.73" height="57.15" fill="#aed351"/>
<rect x="1172.95" y="1336.49" width="50.73" height="57.15" fill="#8dcc84"/>
<rect x="1223.68" y="1336.49" width="50.73" height="57.15" fill="#7ecaa6"/>
<rect x="1274.41" y="1336.49" width="50.73" height="57.15" fill="#8dcc84"/>
<rect x="1325.15" y="1336.49" width="50.73" height="57.15" fill="#95cd76"/>
<rect x="1375.88" y="1336.49" width="50.73" height="57.15" fill="#7ecaa6"/>
<rect x="1426.61" y="1336.49" width="50.73" height="57.15" fill="#77cabd"/>
<rect x="1477.34" y="1336.49" width="50.73" height="57.15" fill="#7bcab6"/>
<rect x="1528.08" y="1336.49" width="50.73" height="57.15" fill="#8dcc84"/>
<rect x="1578.81" y="1336.49" width="50.73" height="57.15" fill="#7bcab6"/>
<rect x="1629.54" y="1336.49" width="50.73" height="57.15" fill="#9ecf68"/>
<rect x="1680.27" y="1336.49" width="50.73" height="57.15" fill="#d8df24"/>
<rect x="1731.01" y="1336.49" width="50.73" height="57.15" fill="#f8981d"/>
<rect x="1781.74" y="1336.49" width="50.73" height="57.15" fill="#9ecf68"/>
<rect x="361.23" y="1393.64" width="50.73" height="57.15" fill="#7ecaa6"/>
<rect x="411.96" y="1393.64" width="50.73" height="57.15" fill="#f9ec1d"/>
<rect x="462.70" y="1393.64" width="50.73" height="57.15" fill="#ffcc0b"/>
<rect x="513.43" y="1393.64" width="50.73" height="57.15" fill="#c2d936"/>
<rect x="564.16" y="1393.64" width="50.73" height="57.15" fill="#ffcc0b"/>
<rect x="614.89" y="1393.64" width="50.73" height="57.15" fill="#f9ec1d"/>
<rect x="665.63" y="1393.64" width="50.73" height="57.15" fill="#f8981d"/>
<rect x="716.36" y="1393.64" width="50.73" height="57.15" fill="#9ecf68"/>
<rect x="767.09" y="1393.64" width="50.73" height="57.15" fill="#f9ec1d"/>
<rect x="817.82" y="1393.64" width="50.73" height="57.15" fill="#ffcc0b"/>
<rect x="868.56" y="1393.64" width="50.73" height="57.15" fill="#f26a21"/>
<rect x="919.29" y="1393.64" width="50.73" height="57.15" fill="#85ca9a"/>
<rect x="970.02" y="1393.64" width="50.73" height="57.15" fill="#aed351"/>
<rect x="1020.75" y="1393.64" width="50.73" height="57.15" fill="#ebe619"/>
<rect x="1071.49" y="1393.64" width="50.73" height="57.15" fill="#aed351"/>
<rect x="1122.22" y="1393.64" width="50.73" height="57.15" fill="#8dcc84"/>
<rect x="1172.95" y="1393.64" width="50.73" height="57.15" fill="#85ca9a"/>
<rect x="1223.68" y="1393.64" width="50.73" height="57.15" fill="#9ecf68"/>
<rect x="1274.41" y="1393.64" width="50.73" height="57.15" fill="#9ecf68"/>
<rect x="1325.15" y="1393.64" width="50.73" height="57.15" fill="#f3e91b"/>
<rect x="1375.88" y="1393.64" width="50.73" height="57.15" fill="#d8df24"/>
<rect x="1426.61" y="1393.64" width="50.73" height="57.15" fill="#d8df24"/>
<rect x="1477.34" y="1393.64" width="50.73" height="57.15" fill="#ffcc0b"/>
<rect x="1528.08" y="1393.64" width="50.73" height="57.15" fill="#fdb714"/>
<rect x="1578.81" y="1393.64" width="50.73" height="57.15" fill="#77cabd"/>
<rect x="1629.54" y="1393.64" width="50.73" height="57.15" fill="#9ecf68"/>
<rect x="716.36" y="1450.80" width="50.73" height="57.15" fill="#69cbe1"/>
<rect x="767.09" y="1450.80" width="50.73" height="57.15" fill="#69cbe1"/>
<rect x="817.82" y="1450.80" width="50.73" height="57.15" fill="#d8df24"/>
<rect x="868.56" y="1450.80" width="50.73" height="57.15" fill="#d8df24"/>
<rect x="919.29" y="1450.80" width="50.73" height="57.15" fill="#b6d645"/>
<rect x="970.02" y="1450.80" width="50.73" height="57.15" fill="#f9ec1d"/>
<rect x="1020.75" y="1450.80" width="50.73" height="57.15" fill="#f9ec1d"/>
<rect x="1071.49" y="1450.80" width="50.73" height="57.15" fill="#aed351"/>
<rect x="1122.22" y="1450.80" width="50.73" height="57.15" fill="#b6d645"/>
<rect x="1172.95" y="1450.80" width="50.73" height="57.15" fill="#d8df24"/>
<rect x="1223.68" y="1450.80" width="50.73" height="57.15" fill="#aed351"/>
<rect x="1274.41" y="1450.80" width="50.73" height="57.15" fill="#69cbe1"/>
<rect x="1325.15" y="1450.80" width="50.73" height="57.15" fill="#8dcc84"/>
<rect x="1375.88" y="1450.80" width="50.73" height="57.15" fill="#4580c3"/>
<rect x="1426.61" y="1450.80" width="50.73" height="57.15" fill="#8dcc84"/>
<rect x="1477.34" y="1450.80" width="50.73" height="57.15" fill="#4699d4"/>
<rect x="1071.49" y="1507.95" width="50.73" height="57.15" fill="#f9ec1d"/>
<rect x="1122.22" y="1507.95" width="50.73" height="57.15" fill="#d8df24"/>
<rect x="1172.95" y="1507.95" width="50.73" height="57.15" fill="#d8df24"/>
</g>
<path d="M310.50 22.00V1565.10M361.23 22.00V1565.10M411.96 22.00V1565.10M462.70 22.00V1565.10M513.43 22.00V1565.10M564.16 22.00V1565.10M614.89 22.00V1565.10M665.63 22.00V1565.10M716.36 22.00V1565.10M767.09 22.00V1565.10M817.82 22.00V1565.10M868.56 22.00V1565.10M919.29 22.00V1565.10M970.02 22.00V1565.10M1020.75 22.00V1565.10M1071.49 22.00V1565.10M1122.22 22.00V1565.10M1172.95 22.00V1565.10M1223.68 22.00V1565.10M1274.41 22.00V1565.10M1325.15 22.00V1565.10M1375.88 22.00V1565.10M1426.61 22.00V1565.10M1477.34 22.00V1565.10M1528.08 22.00V1565.10M1578.81 22.00V1565.10M1629.54 22.00V1565.10M1680.27 22.00V1565.10M1731.01 22.00V1565.10M1781.74 22.00V1565.10M1832.47 22.00V1565.10M1883.20 22.00V1565.10M1933.94 22.00V1565.10M1984.67 22.00V1565.10M2035.40 22.00V1565.10M310.50 22.00H2035.40M310.50 79.15H2035.40M310.50 136.30H2035.40M310.50 193.46H2035.40M310.50 250.61H2035.40M310.50 307.76H2035.40M310.50 364.91H2035.40M310.50 422.06H2035.40M310.50 479.21H2035.40M310.50 536.37H2035.40M310.50 593.52H2035.40M310.50 650.67H2035.40M310.50 707.82H2035.40M310.50 764.97H2035.40M310.50 822.13H2035.40M310.50 879.28H2035.40M310.50 936.43H2035.40M310.50 993.58H2035.40M310.50 1050.73H2035.40M310.50 1107.89H2035.40M310.50 1165.04H2035.40M310.50 1222.19H2035.40M310.50 1279.34H2035.40M310.50 1336.49H2035.40M310.50 1393.64H2035.40M310.50 1450.80H2035.40M310.50 1507.95H2035.40M310.50 1565.10H2035.40" stroke="#000" stroke-width="2.30" fill="none" stroke-linecap="square"/>
<g shape-rendering="crispEdges">
<rect x="2134.90" y="1540.99" width="89.60" height="24.61" fill="#2b2f82"/>
<rect x="2134.90" y="1516.88" width="89.60" height="24.61" fill="#2c328e"/>
<rect x="2134.90" y="1492.78" width="89.60" height="24.61" fill="#2c3694"/>
<rect x="2134.90" y="1468.67" width="89.60" height="24.61" fill="#303e98"/>
<rect x="2134.90" y="1444.56" width="89.60" height="24.61" fill="#33449c"/>
<rect x="2134.90" y="1420.45" width="89.60" height="24.61" fill="#36499f"/>
<rect x="2134.90" y="1396.35" width="89.60" height="24.61" fill="#384da1"/>
<rect x="2134.90" y="1372.24" width="89.60" height="24.61" fill="#3a51a3"/>
<rect x="2134.90" y="1348.13" width="89.60" height="24.61" fill="#3b53a4"/>
<rect x="2134.90" y="1324.02" width="89.60" height="24.61" fill="#3c55a5"/>
<rect x="2134.90" y="1299.91" width="89.60" height="24.61" fill="#3d57a6"/>
<rect x="2134.90" y="1275.81" width="89.60" height="24.61" fill="#3e5aa8"/>
<rect x="2134.90" y="1251.70" width="89.60" height="24.61" fill="#3f5eab"/>
<rect x="2134.90" y="1227.59" width="89.60" height="24.61" fill="#3d65af"/>
<rect x="2134.90" y="1203.48" width="89.60" height="24.61" fill="#3f6eb6"/>
<rect x="2134.90" y="1179.38" width="89.60" height="24.61" fill="#4079bd"/>
<rect x="2134.90" y="1155.27" width="89.60" height="24.61" fill="#4586c7"/>
<rect x="2134.90" y="1131.16" width="89.60" height="24.61" fill="#4597d2"/>
<rect x="2134.90" y="1107.05" width="89.60" height="24.61" fill="#41a9dd"/>
<rect x="2134.90" y="1082.94" width="89.60" height="24.61" fill="#3db6e9"/>
<rect x="2134.90" y="1058.84" width="89.60" height="24.61" fill="#35c4f3"/>
<rect x="2134.90" y="1034.73" width="89.60" height="24.61" fill="#4ac7ef"/>
<rect x="2134.90" y="1010.62" width="89.60" height="24.61" fill="#5ec9e6"/>
<rect x="2134.90" y="986.51" width="89.60" height="24.61" fill="#6dcbdb"/>
<rect x="2134.90" y="962.40" width="89.60" height="24.61" fill="#6fcbd2"/>
<rect x="2134.90" y="938.30" width="89.60" height="24.61" fill="#72cbc7"/>
<rect x="2134.90" y="914.19" width="89.60" height="24.61" fill="#76cabc"/>
<rect x="2134.90" y="890.08" width="89.60" height="24.61" fill="#7acab0"/>
<rect x="2134.90" y="865.97" width="89.60" height="24.61" fill="#7dcaa3"/>
<rect x="2134.90" y="841.87" width="89.60" height="24.61" fill="#86cb91"/>
<rect x="2134.90" y="817.76" width="89.60" height="24.61" fill="#8fcd80"/>
<rect x="2134.90" y="793.65" width="89.60" height="24.61" fill="#98ce72"/>
<rect x="2134.90" y="769.54" width="89.60" height="24.61" fill="#a0cf65"/>
<rect x="2134.90" y="745.43" width="89.60" height="24.61" fill="#a8d258"/>
<rect x="2134.90" y="721.33" width="89.60" height="24.61" fill="#b1d44c"/>
<rect x="2134.90" y="697.22" width="89.60" height="24.61" fill="#bcd73e"/>
<rect x="2134.90" y="673.11" width="89.60" height="24.61" fill="#c8da30"/>
<rect x="2134.90" y="649.00" width="89.60" height="24.61" fill="#d5df25"/>
<rect x="2134.90" y="624.90" width="89.60" height="24.61" fill="#e5e41b"/>
<rect x="2134.90" y="600.79" width="89.60" height="24.61" fill="#efe81b"/>
<rect x="2134.90" y="576.68" width="89.60" height="24.61" fill="#f7ea16"/>
<rect x="2134.90" y="552.57" width="89.60" height="24.61" fill="#fce10d"/>
<rect x="2134.90" y="528.46" width="89.60" height="24.61" fill="#fecb0b"/>
<rect x="2134.90" y="504.36" width="89.60" height="24.61" fill="#fcb515"/>
<rect x="2134.90" y="480.25" width="89.60" height="24.61" fill="#fba719"/>
<rect x="2134.90" y="456.14" width="89.60" height="24.61" fill="#f99a1c"/>
<rect x="2134.90" y="432.03" width="89.60" height="24.61" fill="#f78c1e"/>
<rect x="2134.90" y="407.92" width="89.60" height="24.61" fill="#f57f20"/>
<rect x="2134.90" y="383.82" width="89.60" height="24.61" fill="#f37221"/>
<rect x="2134.90" y="359.71" width="89.60" height="24.61" fill="#f26521"/>
<rect x="2134.90" y="335.60" width="89.60" height="24.61" fill="#f15822"/>
<rect x="2134.90" y="311.49" width="89.60" height="24.61" fill="#f04d23"/>
<rect x="2134.90" y="287.39" width="89.60" height="24.61" fill="#ef4223"/>
<rect x="2134.90" y="263.28" width="89.60" height="24.61" fill="#ee3624"/>
<rect x="2134.90" y="239.17" width="89.60" height="24.61" fill="#ee2a24"/>
<rect x="2134.90" y="215.06" width="89.60" height="24.61" fill="#ed2124"/>
<rect x="2134.90" y="190.95" width="89.60" height="24.61" fill="#e91d25"/>
<rect x="2134.90" y="166.85" width="89.60" height="24.61" fill="#db1f27"/>
<rect x="2134.90" y="142.74" width="89.60" height="24.61" fill="#c8202a"/>
<rect x="2134.90" y="118.63" width="89.60" height="24.61" fill="#b81e26"/>
<rect x="2134.90" y="94.52" width="89.60" height="24.61" fill="#a71d22"/>
<rect x="2134.90" y="70.42" width="89.60" height="24.61" fill="#9c1b1f"/>
<rect x="2134.90" y="46.31" width="89.60" height="24.61" fill="#90181c"/>
<rect x="2134.90" y="22.20" width="89.60" height="24.61" fill="#851619"/>
</g>
<rect x="2134.90" y="22.20" width="89.60" height="1542.90" fill="none" stroke="#000" stroke-width="2.4"/>
<path d="M2134.90 1530.20h15M2224.50 1530.20h-15M2134.90 1310.85h15M2224.50 1310.85h-15M2134.90 1091.50h15M2224.50 1091.50h-15M2134.90 872.15h15M2224.50 872.15h-15M2134.90 652.80h15M2224.50 652.80h-15M2134.90 433.45h15M2224.50 433.45h-15M2134.90 214.10h15M2224.50 214.10h-15" stroke="#000" stroke-width="2" fill="none"/>
<text transform="translate(2268.50 1557.00) scale(1 1.035)" font-size="83.40" text-anchor="start">46</text>
<text transform="translate(2268.50 1118.30) scale(1 1.035)" font-size="83.40" text-anchor="start">50</text>
<text transform="translate(2268.50 679.60) scale(1 1.035)" font-size="83.40" text-anchor="start">54</text>
<text transform="translate(2268.50 240.90) scale(1 1.035)" font-size="83.40" text-anchor="start">58</text>
<text transform="translate(283.60 193.20) scale(1 1.035)" font-size="83.40" text-anchor="end">1.0</text>
<text transform="translate(283.60 478.97) scale(1 1.035)" font-size="83.40" text-anchor="end">0.75</text>
<text transform="translate(283.60 764.74) scale(1 1.035)" font-size="83.40" text-anchor="end">0.5</text>
<text transform="translate(283.60 1050.51) scale(1 1.035)" font-size="83.40" text-anchor="end">0.25</text>
<text transform="translate(283.60 1336.28) scale(1 1.035)" font-size="83.40" text-anchor="end">0.0</text>
<text transform="translate(492.70 1653.90) scale(1 1.035)" font-size="83.40" text-anchor="middle">25</text>
<text transform="translate(746.35 1653.90) scale(1 1.035)" font-size="83.40" text-anchor="middle">50</text>
<text transform="translate(1000.00 1653.90) scale(1 1.035)" font-size="83.40" text-anchor="middle">75</text>
<text transform="translate(1250.65 1653.90) scale(1 1.035)" font-size="83.40" text-anchor="middle">100</text>
<text transform="translate(1504.30 1653.90) scale(1 1.035)" font-size="83.40" text-anchor="middle">125</text>
<text transform="translate(1757.95 1653.90) scale(1 1.035)" font-size="83.40" text-anchor="middle">150</text>
<text transform="translate(2011.60 1653.90) scale(1 1.035)" font-size="83.40" text-anchor="middle">175</text>
<text transform="translate(1242.50 1746.80) scale(1 1.035)" font-size="83.70" text-anchor="middle">Euclidean Distance Between ROIs (mm)</text>
<text transform="translate(81.60 831.35) rotate(-90) scale(1 1.035)" font-size="83.65" text-anchor="middle">Connection Strength</text>
<text transform="translate(2417.90 806.40) rotate(90) scale(1 1.035)" font-size="83.60" text-anchor="middle">Percent of Subjects Correctly Classified</text>
</svg></body></html>
